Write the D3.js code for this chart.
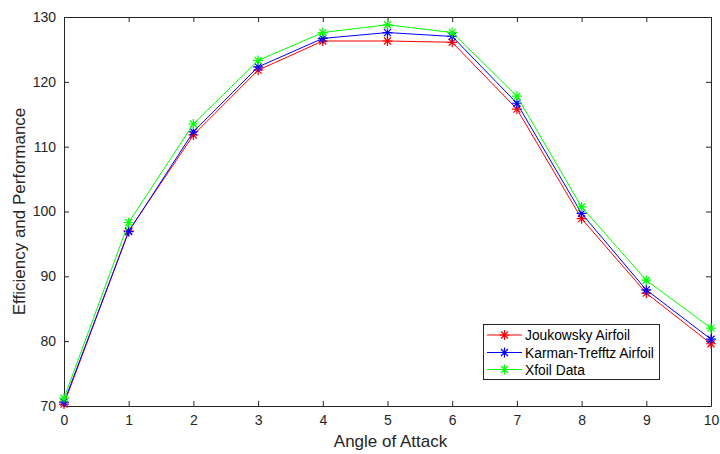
<!DOCTYPE html>
<html><head><meta charset="utf-8">
<script src="https://cdn.jsdelivr.net/npm/d3@7"></script>
<style>body{margin:0;background:#fff;} text{font-family:"Liberation Sans",Arial,sans-serif;}</style>
</head><body>
<svg id="c" width="720" height="454"></svg>
<script>
const angles = [0,1,2,3,4,5,6,7,8,9,10];
const joukowsky = [70.3,97.0,111.8,121.8,126.3,126.3,126.1,115.8,98.9,87.4,79.6];
const karman = [70.6,96.9,112.3,122.3,126.7,127.6,127.0,116.7,99.7,87.9,80.3];
const xfoil = [71.2,98.3,113.5,123.3,127.6,128.8,127.6,117.8,100.7,89.4,82.0];
const seriesNames = ["Joukowsky Airfoil","Karman-Trefftz Airfoil","Xfoil Data"];
const seriesColors = ["#ff0000","#0000ff","#00ff00"];
const xTicks = [0,1,2,3,4,5,6,7,8,9,10];
const yTicks = [70,80,90,100,110,120,130];

const svg = d3.select("#c");
const L=64, R=711, T=17, B=406;
const x = d3.scaleLinear().domain([0,10]).range([L,R]);
const y = d3.scaleLinear().domain([70,130]).range([B,T]);
const axisCol = "#262626";

// axes
const gx = svg.append("g").attr("transform",`translate(0,${B})`)
  .call(d3.axisBottom(x).tickValues(xTicks).tickSizeInner(-5).tickSizeOuter(0).tickPadding(9).tickFormat(d3.format("d")));
const gxt = svg.append("g").attr("transform",`translate(0,${T})`)
  .call(d3.axisTop(x).tickValues(xTicks).tickSizeInner(-5).tickSizeOuter(0).tickFormat(""));
const gy = svg.append("g").attr("transform",`translate(${L},0)`)
  .call(d3.axisLeft(y).tickValues(yTicks).tickSizeInner(-5).tickSizeOuter(0).tickPadding(8).tickFormat(d3.format("d")));
const gyr = svg.append("g").attr("transform",`translate(${R},0)`)
  .call(d3.axisRight(y).tickValues(yTicks).tickSizeInner(-5).tickSizeOuter(0).tickFormat(""));
[gx,gxt,gy,gyr].forEach(g=>{
  g.selectAll("path.domain").attr("stroke",axisCol).attr("stroke-width",1);
  g.selectAll("line").attr("stroke",axisCol);
  g.selectAll("text").attr("fill",axisCol).attr("font-size",14);
});

// data
const allSeries = [joukowsky,karman,xfoil];
const line = d3.line().x((d,i)=>x(angles[i])).y(d=>y(d));
function star(g, cx, cy, col, r){
  const p = `M${cx-r},${cy}L${cx+r},${cy}M${cx},${cy-r}L${cx},${cy+r}` +
    `M${cx-r*0.7},${cy-r*0.7}L${cx+r*0.7},${cy+r*0.7}M${cx-r*0.7},${cy+r*0.7}L${cx+r*0.7},${cy-r*0.7}`;
  g.append("path").attr("d",p).attr("stroke",col).attr("stroke-width",1.2).attr("fill","none");
}
allSeries.forEach((s,k)=>{
  const g = svg.append("g");
  g.append("path").datum(s).attr("d",line).attr("fill","none").attr("stroke",seriesColors[k]).attr("stroke-width",1);
  s.forEach((v,i)=>star(g, x(angles[i]), y(v), seriesColors[k], 5));
});

// legend
const lg = svg.append("g");
lg.append("rect").attr("x",483.5).attr("y",324.5).attr("width",176).attr("height",55)
  .attr("fill","#fff").attr("stroke",axisCol).attr("stroke-width",1);
const ly=[335,352.5,369.5];
seriesNames.forEach((n,k)=>{
  lg.append("line").attr("x1",487).attr("x2",522).attr("y1",ly[k]).attr("y2",ly[k]).attr("stroke",seriesColors[k]).attr("stroke-width",1);
  star(lg,504.5,ly[k],seriesColors[k],5);
  lg.append("text").attr("x",525).attr("y",ly[k]+5).attr("font-size",13.8).attr("fill","#000").text(n);
});

// labels
svg.append("text").attr("x",(L+R)/2+3).attr("y",447).attr("text-anchor","middle").attr("font-size",17).attr("fill",axisCol).text("Angle of Attack");
svg.append("text").attr("transform",`translate(25,${(T+B)/2}) rotate(-90)`).attr("text-anchor","middle").attr("font-size",17).attr("fill",axisCol).text("Efficiency and Performance");
</script>
</body></html>
